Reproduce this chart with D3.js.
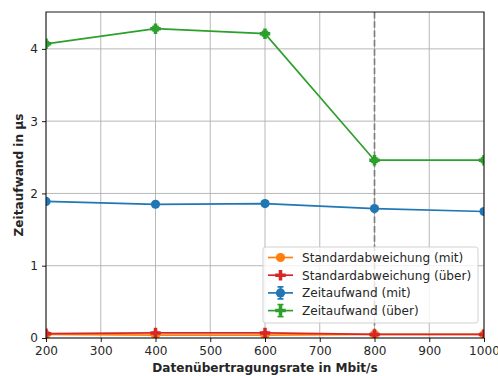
<!DOCTYPE html>
<html>
<head>
<meta charset="utf-8">
<script src="https://cdn.jsdelivr.net/npm/d3@7"></script>
<style>
  body { margin: 0; background: #fff; }
  text { font-family: "DejaVu Sans", sans-serif; fill: #262626; }
</style>
</head>
<body>
<div id="chart"></div>
<script>
// data
var rates = [200, 400, 600, 800, 1000]
var zeitMit = [1.89, 1.85, 1.86, 1.79, 1.75]
var zeitMitErr = [0.02, 0.02, 0.02, 0.02, 0.02]
var zeitUeber = [4.07, 4.28, 4.21, 2.46, 2.46]
var zeitUeberErr = [0.03, 0.03, 0.03, 0.03, 0.03]
var stdMit = [0.05, 0.04, 0.04, 0.05, 0.05]
var stdUeber = [0.06, 0.07, 0.07, 0.05, 0.05]
var xTicks = [200, 300, 400, 500, 600, 700, 800, 900, 1000]
var yTicks = [0, 1, 2, 3, 4]
var markLine = 800

var W = 498, H = 376
var margin = {top: 12, right: 14, bottom: 38, left: 46}
var fs = "12.1px"

var x = d3.scaleLinear().domain([200, 1000]).range([margin.left, W - margin.right])
var y = d3.scaleLinear().domain([0, 4.51]).range([H - margin.bottom, margin.top])

var svg = d3.select("#chart").append("svg")
    .attr("width", W)
    .attr("height", H)

svg.append("defs").append("clipPath").attr("id", "plotclip")
  .append("rect")
    .attr("x", margin.left).attr("y", margin.top)
    .attr("width", x.range()[1] - margin.left)
    .attr("height", y.range()[0] - margin.top)

// grid
var grid = svg.append("g")
grid.selectAll(".vg").data(xTicks).enter().append("line")
    .attr("x1", d => x(d)).attr("x2", d => x(d))
    .attr("y1", margin.top).attr("y2", y(0))
    .style("stroke", "#b0b0b0").style("stroke-width", 0.9)
grid.selectAll(".hg").data(yTicks).enter().append("line")
    .attr("x1", margin.left).attr("x2", x(1000))
    .attr("y1", d => y(d)).attr("y2", d => y(d))
    .style("stroke", "#b0b0b0").style("stroke-width", 0.9)

var plot = svg.append("g").attr("clip-path", "url(#plotclip)")

// dashed marker line
plot.append("line")
    .attr("x1", x(markLine)).attr("x2", x(markLine))
    .attr("y1", margin.top).attr("y2", y(0))
    .style("stroke", "#7f7f7f").style("stroke-width", 1.7)
    .style("stroke-dasharray", "6.5,2.8")

var line = d3.line().x(d => x(d[0])).y(d => y(d[1]))

function plusPath(cx, cy, s) {
  // filled plus marker "P"
  var a = s / 2, b = s / 6
  return "M" + (cx - b) + "," + (cy - a) + "H" + (cx + b) + "V" + (cy - b) + "H" + (cx + a) +
    "V" + (cy + b) + "H" + (cx + b) + "V" + (cy + a) + "H" + (cx - b) + "V" + (cy + b) +
    "H" + (cx - a) + "V" + (cy - b) + "H" + (cx - b) + "Z"
}

function drawSeries(vals, errs, color, marker) {
  var pts = rates.map((r, i) => [r, vals[i], errs ? errs[i] : 0])
  var g = plot.append("g")
  if (errs) {
    pts.forEach(function(p) {
      g.append("line")
        .attr("x1", x(p[0])).attr("x2", x(p[0]))
        .attr("y1", y(p[1] - p[2])).attr("y2", y(p[1] + p[2]))
        .style("stroke", color).style("stroke-width", 1.7)
      ;[p[1] - p[2], p[1] + p[2]].forEach(function(v) {
        g.append("line")
          .attr("x1", x(p[0]) - 3.3).attr("x2", x(p[0]) + 3.3)
          .attr("y1", y(v)).attr("y2", y(v))
          .style("stroke", color).style("stroke-width", 1.7)
      })
    })
  }
  g.append("path").datum(pts)
    .attr("d", line)
    .style("fill", "none").style("stroke", color).style("stroke-width", 1.7)
  pts.forEach(function(p) {
    if (marker == "o") {
      g.append("circle").attr("cx", x(p[0])).attr("cy", y(p[1])).attr("r", 4.6)
        .style("fill", color)
    } else {
      g.append("path").attr("d", plusPath(x(p[0]), y(p[1]), 10.5)).style("fill", color)
    }
  })
}

drawSeries(zeitMit, zeitMitErr, "#1f77b4", "o")
drawSeries(zeitUeber, zeitUeberErr, "#2ca02c", "P")
drawSeries(stdMit, null, "#ff7f0e", "o")
drawSeries(stdUeber, null, "#d62728", "P")

// axes frame
svg.append("rect")
    .attr("x", margin.left).attr("y", margin.top)
    .attr("width", x(1000) - margin.left).attr("height", y(0) - margin.top)
    .style("fill", "none").style("stroke", "#000").style("stroke-width", 0.9)

var xAxis = svg.append("g").attr("transform", "translate(0," + y(0) + ")")
    .call(d3.axisBottom(x).tickValues(xTicks).tickSize(4).tickPadding(4).tickFormat(d3.format("d")))
var yAxis = svg.append("g").attr("transform", "translate(" + margin.left + ",0)")
    .call(d3.axisLeft(y).tickValues(yTicks).tickSize(4).tickPadding(4).tickFormat(d3.format("d")))
;[xAxis, yAxis].forEach(function(a) {
  a.select(".domain").remove()
  a.selectAll("line").style("stroke", "#000").style("stroke-width", 0.9)
  a.selectAll("text").style("font-size", fs).style("font-family", "DejaVu Sans").style("fill", "#262626")
})

svg.append("text")
    .attr("x", (margin.left + x(1000)) / 2).attr("y", 372)
    .attr("text-anchor", "middle")
    .style("font-size", fs).style("font-weight", "bold")
    .text("Datenübertragungsrate in Mbit/s")
svg.append("text")
    .attr("transform", "translate(23," + ((margin.top + y(0)) / 2) + ") rotate(-90)")
    .attr("text-anchor", "middle")
    .style("font-size", fs).style("font-weight", "bold")
    .text("Zeitaufwand in µs")

// legend
var legendItems = [
  {label: "Standardabweichung (mit)", color: "#ff7f0e", marker: "o", err: false},
  {label: "Standardabweichung (über)", color: "#d62728", marker: "P", err: false},
  {label: "Zeitaufwand (mit)", color: "#1f77b4", marker: "o", err: true},
  {label: "Zeitaufwand (über)", color: "#2ca02c", marker: "P", err: true}
]
var lg = svg.append("g").attr("transform", "translate(263,247)")
lg.append("rect")
    .attr("width", 215).attr("height", 76).attr("rx", 2.5)
    .style("fill", "#fff").style("fill-opacity", 0.8)
    .style("stroke", "#cccccc").style("stroke-width", 0.9)
legendItems.forEach(function(it, i) {
  var cy = 10.5 + i * 17.7
  var row = lg.append("g")
  row.append("line").attr("x1", 5).attr("x2", 30).attr("y1", cy).attr("y2", cy)
    .style("stroke", it.color).style("stroke-width", 1.7)
  if (it.err) {
    row.append("line").attr("x1", 17.5).attr("x2", 17.5).attr("y1", cy - 6).attr("y2", cy + 6)
      .style("stroke", it.color).style("stroke-width", 1.7)
    ;[cy - 6, cy + 6].forEach(function(v) {
      row.append("line").attr("x1", 14.5).attr("x2", 20.5).attr("y1", v).attr("y2", v)
        .style("stroke", it.color).style("stroke-width", 1.7)
    })
  }
  if (it.marker == "o") {
    row.append("circle").attr("cx", 17.5).attr("cy", cy).attr("r", 4.6).style("fill", it.color)
  } else {
    row.append("path").attr("d", plusPath(17.5, cy, 10.5)).style("fill", it.color)
  }
  row.append("text").attr("x", 39).attr("y", cy + 4.3)
    .style("font-size", fs)
    .text(it.label)
})
</script>
</body>
</html>
